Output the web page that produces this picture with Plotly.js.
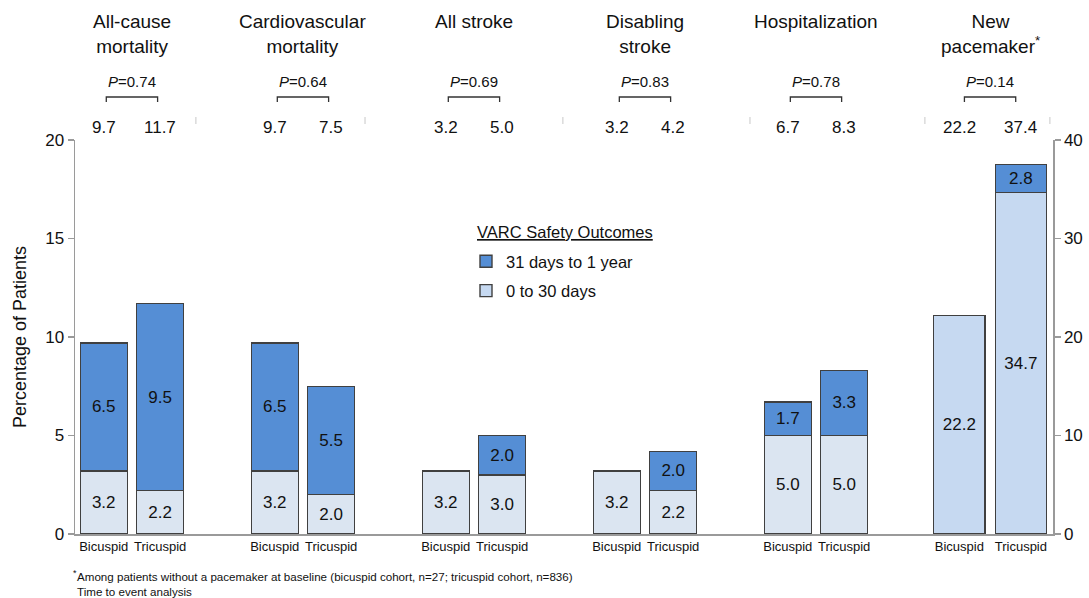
<!DOCTYPE html>
<html>
<head>
<meta charset="utf-8">
<script src="https://cdn.plot.ly/plotly-3.0.1.min.js"></script>
<style>
  html, body { margin: 0; padding: 0; background: #fff; }
  #chart { width: 1089px; height: 598px; }
</style>
</head>
<body>
<div id="chart"></div>
<script>
// VARC safety outcomes, bicuspid vs tricuspid cohorts (% of patients)
const outcomes = ['All-cause<br>mortality', 'Cardiovascular<br>mortality', 'All stroke',
                  'Disabling<br>stroke', 'Hospitalization', 'New<br>pacemaker<sup>*</sup>'];
const pValues = ['0.74', '0.64', '0.69', '0.83', '0.78', '0.14'];
const cohorts = ['Bicuspid', 'Tricuspid'];

// 0 to 30 days
const earlyBicuspid  = [3.2, 3.2, 3.2, 3.2, 5.0, 22.2];
const earlyTricuspid = [2.2, 2.0, 3.0, 2.2, 5.0, 34.7];
// 31 days to 1 year (null = no events in that window)
const lateBicuspid   = [6.5, 6.5, null, null, 1.7, null];
const lateTricuspid  = [9.5, 5.5, 2.0, 2.0, 3.3, 2.8];
// 1-year totals printed above each bar pair
const totalBicuspid  = ['9.7', '9.7', '3.2', '3.2', '6.7', '22.2'];
const totalTricuspid = ['11.7', '7.5', '5.0', '4.2', '8.3', '37.4'];

const BLUE = '#558ed5';
const PALE = '#dbe5f1';
const LIGHT = '#c6d9f1';
const EDGE = '#404040';
const FONT = 'Liberation Sans, Arial, sans-serif';
const NARROW = 'Liberation Sans Narrow, Arial Narrow, Liberation Sans, Arial, sans-serif';

// the last outcome (pacemaker) is plotted against the right-hand axis
const nLeft = outcomes.length - 1;
const groupCenter = g => (g === nLeft ? g + 0.018 : g);
const halfGap = g => (g === nLeft ? 0.18 : 0.165);
const barWidth = g => (g === nLeft ? 0.30 : 0.275);

const leftIdx = outcomes.slice(0, nLeft).map((_, i) => i);
const rightIdx = [nLeft];

function segment(values, groupIdx, side, color, name, rank, yaxis, showlegend) {
  // skip windows with no events so no empty bar is drawn
  const idx = groupIdx.filter(g => values[g] != null);
  const y = idx.map(g => values[g]);
  return {
    type: 'bar',
    x: idx.map(g => groupCenter(g) + side * halfGap(g)),
    y: y,
    width: idx.map(barWidth),
    name: name,
    yaxis: yaxis,
    showlegend: showlegend,
    legendgroup: name,
    legendrank: rank,
    marker: { color: color, line: { color: EDGE, width: 1.4 } },
    text: y.map(v => v.toFixed(1)),
    textposition: 'inside',
    insidetextanchor: 'middle',
    textangle: 0,
    constraintext: 'none',
    textfont: { family: FONT, size: 17, color: '#111' },
    hoverinfo: 'skip'
  };
}

const EARLY = '0 to 30 days', LATE = '31 days to 1 year';
const traces = [
  segment(earlyBicuspid, leftIdx, -1, PALE, EARLY, 2, 'y', false),
  segment(earlyTricuspid, leftIdx, 1, PALE, EARLY, 2, 'y', false),
  segment(lateBicuspid, leftIdx, -1, BLUE, LATE, 1, 'y', false),
  segment(lateTricuspid, leftIdx, 1, BLUE, LATE, 1, 'y', false),
  segment(earlyBicuspid, rightIdx, -1, LIGHT, EARLY, 2, 'y2', true),
  segment(earlyTricuspid, rightIdx, 1, LIGHT, EARLY, 2, 'y2', false),
  segment(lateBicuspid, rightIdx, -1, BLUE, LATE, 1, 'y2', false),
  segment(lateTricuspid, rightIdx, 1, BLUE, LATE, 1, 'y2', true)
];

// cohort tick labels under every bar
const allIdx = outcomes.map((_, i) => i);
const tickvals = [], ticktext = [];
allIdx.forEach(g => {
  [-1, 1].forEach((s, k) => {
    tickvals.push(groupCenter(g) + s * halfGap(g));
    ticktext.push(cohorts[k]);
  });
});

// header block: outcome names, P values with brackets, 1-year totals
const plotTop = 140, plotBottom = 534;
const plotLeft = 75, plotRight = 1053;
const paperY = px => (plotBottom - px) / (plotBottom - plotTop);
const paperX = px => (px - plotLeft) / (plotRight - plotLeft);

const annotations = [];
const shapes = [];
allIdx.forEach(g => {
  const c = groupCenter(g);
  annotations.push({
    x: c, xref: 'x', y: paperY(9), yref: 'paper', yanchor: 'top',
    text: outcomes[g], showarrow: false,
    font: { family: FONT, size: 19, color: '#111' }
  });
  annotations.push({
    x: c, xref: 'x', y: paperY(82), yref: 'paper', yanchor: 'middle',
    text: '<i>P</i>=' + pValues[g], showarrow: false,
    font: { family: FONT, size: 15, color: '#111' }
  });
  const x0 = c - 0.15, x1 = c + 0.15;
  const yt = paperY(97), yb = paperY(102);
  shapes.push({
    type: 'path', xref: 'x', yref: 'paper',
    path: `M${x0},${yb} L${x0},${yt} L${x1},${yt} L${x1},${yb}`,
    line: { color: '#333', width: 1.3 }
  });
  annotations.push({
    x: c - halfGap(g), xref: 'x', y: paperY(127), yref: 'paper', yanchor: 'middle',
    text: totalBicuspid[g], showarrow: false,
    font: { family: FONT, size: 17, color: '#111' }
  });
  annotations.push({
    x: c + halfGap(g), xref: 'x', y: paperY(127), yref: 'paper', yanchor: 'middle',
    text: totalTricuspid[g], showarrow: false,
    font: { family: FONT, size: 17, color: '#111' }
  });
});

// faint separators in the totals row
[0.374, 1.363, 2.52, 3.614, 4.637, 5.368].forEach(x => {
  shapes.push({
    type: 'line', xref: 'x', yref: 'paper',
    x0: x, x1: x, y0: paperY(124), y1: paperY(117),
    line: { color: '#c8c8c8', width: 1 }
  });
});

// legend heading
annotations.push({
  x: paperX(475), xref: 'paper', xanchor: 'left',
  y: paperY(232), yref: 'paper', yanchor: 'middle',
  text: '<u>VARC Safety Outcomes</u>', showarrow: false,
  font: { family: FONT, size: 16.5, color: '#111' }
});

// footnotes
annotations.push({
  x: 0, xref: 'paper', xshift: -4, y: paperY(573), yref: 'paper', yanchor: 'middle',
  xanchor: 'left', text: '*', showarrow: false,
  font: { family: NARROW, size: 9, color: '#111' }
});
annotations.push({
  x: 0, xref: 'paper', y: paperY(576), yref: 'paper', yanchor: 'middle',
  xanchor: 'left', showarrow: false,
  text: 'Among patients without a pacemaker at baseline (bicuspid cohort, n=27; tricuspid cohort, n=836)',
  font: { family: NARROW, size: 11.6, color: '#111' }
});
annotations.push({
  x: 0, xref: 'paper', y: paperY(591), yref: 'paper', yanchor: 'middle',
  xanchor: 'left', showarrow: false,
  text: 'Time to event analysis',
  font: { family: NARROW, size: 11.6, color: '#111' }
});

const layout = {
  width: 1089, height: 598,
  margin: { l: plotLeft, r: 1089 - plotRight, t: plotTop, b: 598 - plotBottom },
  paper_bgcolor: '#fff', plot_bgcolor: '#fff',
  barmode: 'stack',
  showlegend: true,
  legend: {
    x: paperX(466), xanchor: 'left',
    y: paperY(244), yanchor: 'top',
    traceorder: 'grouped',
    tracegroupgap: 5,
    bgcolor: 'rgba(0,0,0,0)',
    font: { family: FONT, size: 16.5, color: '#111' },
    itemwidth: 30
  },
  xaxis: {
    range: [-0.333, 5.386],
    tickvals: tickvals, ticktext: ticktext,
    ticks: '', showgrid: false, zeroline: false,
    showline: true, linecolor: '#9a9a9a', linewidth: 1.5,
    tickfont: { family: NARROW, size: 13, color: '#111' },
    fixedrange: true
  },
  yaxis: {
    range: [0, 20], tickvals: [0, 5, 10, 15, 20],
    ticks: 'outside', ticklen: 6, tickcolor: '#9a9a9a', tickwidth: 1.2,
    showline: true, linecolor: '#9a9a9a', linewidth: 1.5,
    showgrid: false, zeroline: false,
    tickfont: { family: FONT, size: 17, color: '#111' },
    title: { text: 'Percentage of Patients', standoff: 14, font: { family: FONT, size: 18, color: '#111' } },
    fixedrange: true
  },
  yaxis2: {
    overlaying: 'y', side: 'right',
    range: [0, 40], tickvals: [0, 10, 20, 30, 40],
    ticks: 'outside', ticklen: 6, tickcolor: '#9a9a9a', tickwidth: 1.2,
    showline: true, linecolor: '#9a9a9a', linewidth: 1.5,
    showgrid: false, zeroline: false,
    tickfont: { family: FONT, size: 17, color: '#111' },
    fixedrange: true
  },
  annotations: annotations,
  shapes: shapes
};

Plotly.newPlot('chart', traces, layout, { staticPlot: true, displayModeBar: false });
</script>
</body>
</html>
